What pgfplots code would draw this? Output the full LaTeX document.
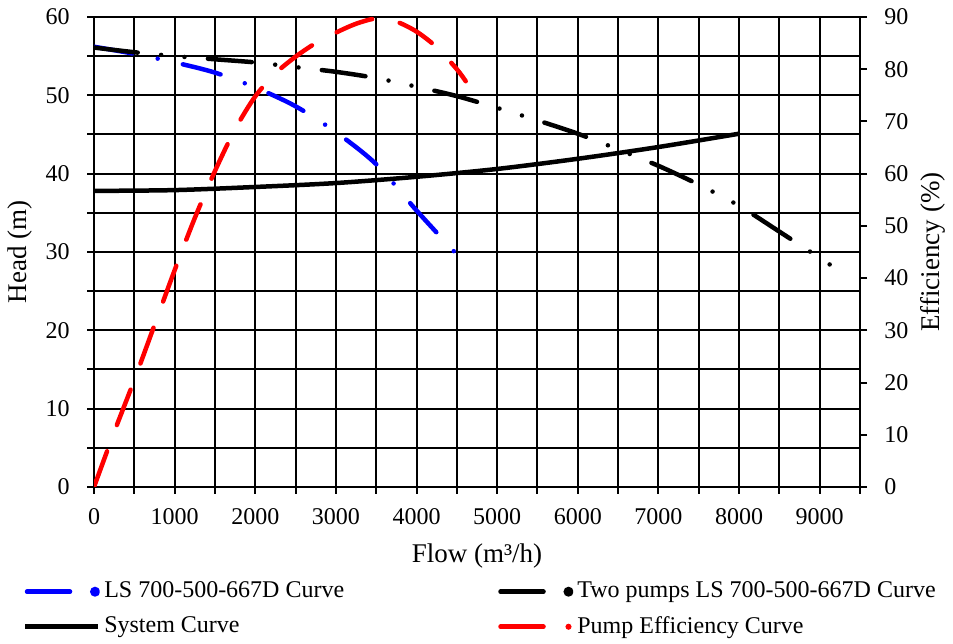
\documentclass[border=0pt]{standalone}
\usepackage{fontspec}
\setmainfont{Liberation Serif}
\usepackage{pgfplots}
\pgfplotsset{compat=1.18}
\begin{document}
\fontsize{12}{14}\selectfont
\begin{tikzpicture}
\pgfplotsset{
  common/.style={
    scale only axis, width=383pt, height=235pt,
    xmin=0, xmax=9500,
    font=\fontsize{12}{14}\selectfont,
    /pgf/number format/assume math mode=true,
    /pgf/number format/set thousands separator={},
    scaled ticks=false,
    tick align=outside, major tick length=3.5pt, minor tick length=3.5pt,
    tick style={black, line width=1pt},
    axis line style={black, line width=1pt},
    label style={font=\fontsize{13.5}{16}\selectfont},
  },
}
\begin{axis}[common, name=main,
  ymin=0, ymax=60,
  xtick={0,1000,...,9000}, minor xtick={500,1500,...,9500},
  ytick={0,10,...,60}, minor ytick={5,15,...,55},
  xtick pos=bottom, ytick pos=left,
  every x tick label/.append style={yshift=-3pt},
  every y tick label/.append style={xshift=-4.5pt},
  grid=both,
  major grid style={black, line width=1pt},
  minor grid style={black, line width=1pt},
  xlabel={Flow (m³/h)}, ylabel={Head (m)},
  xlabel style={at={(axis description cs:0.5,-0.1468)}, anchor=center},
  ylabel style={at={(axis description cs:-0.0966,0.5)}, anchor=center},
  legend columns=2,
  legend cell align=left,
  legend style={at={(rel axis cs:-0.0935,-0.1926)}, anchor=north west, draw=none, fill=none,
    inner sep=0pt, row sep=3.5pt,
    /tikz/every even column/.append style={column sep=75pt},
    font=\fontsize{12}{14}\selectfont},
]
\addplot[blue, line width=2.25pt, line cap=round, smooth,
  dash pattern=on 19.5pt off 12.9pt on 0pt off 12.9pt,
  legend image code/.code={\draw[blue, line width=2.25pt, line cap=round, solid] (1pt,0pt) -- (22.5pt,0pt); \fill[blue] (35pt,0pt) circle (1.3pt);}]
  coordinates {(0,56.2) (500,55.3) (1000,54.2) (1500,52.9) (2000,51.0) (2500,48.6) (3000,45.3) (3500,41.2) (4000,35.3) (4480,29.9)};
\addlegendentry{LS 700-500-667D Curve}
\addplot[black, line width=2.25pt, line cap=round, smooth,
  dash pattern=on 22pt off 11.75pt on 0pt off 11.75pt on 0pt off 11.75pt,
  legend image code/.code={\draw[black, line width=2.25pt, line cap=round, solid] (1pt,0pt) -- (22.5pt,0pt); \fill[black] (35pt,0pt) circle (1.3pt);}]
  coordinates {(0,56.1) (500,55.5) (1000,55.0) (1500,54.6) (2000,54.2) (2500,53.6) (3000,53.0) (3500,52.2) (4000,51.1) (4500,49.9) (5000,48.4) (5500,46.8) (6000,45.1) (6500,43.1) (7000,41.0) (7500,38.6) (8000,35.9) (8500,32.6) (9170,28.1)};
\addlegendentry{Two pumps LS 700-500-667D Curve}
\addplot[black, line width=2.25pt, smooth,
  legend image code/.code={\draw[black, line width=2.25pt] (0pt,0pt) -- (36.5pt,0pt);}]
  coordinates {(0,37.8) (1000,37.9) (2000,38.3) (3000,38.8) (4000,39.6) (5000,40.6) (6000,41.9) (7000,43.4) (8000,45.1)};
\addlegendentry{System Curve}
\addlegendimage{red, legend image code/.code={\draw[red, line width=2.25pt, line cap=round, solid] (1pt,0pt) -- (22.5pt,0pt); \fill[red] (35pt,0pt) circle (1.3pt);}}
\addlegendentry{Pump Efficiency Curve}
\end{axis}
\begin{axis}[common,
  ymin=0, ymax=90,
  axis x line=none, axis y line*=right,
  ytick={0,10,...,90},
  every y tick label/.append style={xshift=4.5pt},
  ylabel={Efficiency (\%)},
  ylabel style={at={(axis description cs:1.0953,0.5)}, anchor=center},
]
\addplot[red, line width=2.25pt, line cap=round, smooth,
  dash pattern=on 19pt off 14pt]
  coordinates {(0,0) (250,10.5) (500,20.5) (750,31) (1000,41.5) (1250,51.5) (1500,60.5) (1750,68.5) (2000,74.8) (2250,79.2) (2500,82.4) (2750,85) (3000,87) (3250,88.7) (3500,89.7) (3750,89.1) (4000,87.2) (4250,84.2) (4500,80) (4610,77.7)};
\end{axis}
\pgfresetboundingbox
\path ([shift={(-47pt,-78.5pt)}]main.south west) rectangle ([shift={(46.5pt,8.5pt)}]main.north east);
\end{tikzpicture}
\end{document}
